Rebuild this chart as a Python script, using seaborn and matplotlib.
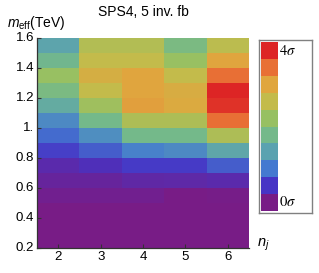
import numpy as np
import pandas as pd
import matplotlib
matplotlib.use("Agg")
import matplotlib.pyplot as plt
import seaborn as sns
from matplotlib.colors import LinearSegmentedColormap, ListedColormap

# n_j columns, m_eff bins (lower edge, top row first)
n_jets = [2, 3, 4, 5, 6]
m_eff_low = [1.5, 1.4, 1.3, 1.2, 1.1, 1.0, 0.9, 0.8, 0.7, 0.6, 0.5, 0.4, 0.3, 0.2]

# significance (sigma) for each n_j, top row first
sig_nj2 = [1.38, 1.73, 2.22, 1.87, 1.51, 1.07, 0.80, 0.53, 0.27, 0.16, 0.07, 0, 0, 0]
sig_nj3 = [2.49, 2.67, 2.93, 2.67, 2.31, 1.78, 1.11, 0.71, 0.36, 0.16, 0.07, 0, 0, 0]
sig_nj4 = [2.49, 2.67, 3.11, 3.11, 3.16, 2.44, 1.78, 0.98, 0.49, 0.22, 0.07, 0, 0, 0]
sig_nj5 = [1.87, 2.22, 2.67, 2.98, 3.02, 2.44, 1.78, 1.07, 0.49, 0.24, 0.0, 0, 0, 0]
sig_nj6 = [2.58, 3.11, 3.56, 4.00, 3.91, 3.56, 2.44, 1.42, 0.71, 0.27, 0.02, 0, 0, 0]

y_ticks = [1.6, 1.4, 1.2, 1.0, 0.8, 0.6, 0.4, 0.2]
y_tick_labels = ["1.6", "1.4", "1.2", "1.", "0.8", "0.6", "0.4", "0.2"]

# legend colours, bottom (0 sigma) to top (4 sigma)
level_colors = ["#781c86", "#4634c5", "#4479d0", "#5aa2b0", "#74b98a",
                "#97c062", "#c3bb4b", "#e0a63e", "#e87035", "#dd2525"]

grid = pd.DataFrame({2: sig_nj2, 3: sig_nj3, 4: sig_nj4, 5: sig_nj5, 6: sig_nj6},
                    index=m_eff_low)

plt.rcParams["font.family"] = ["Liberation Sans", "DejaVu Sans"]
plt.rcParams["mathtext.fontset"] = "custom"
plt.rcParams["mathtext.rm"] = "Liberation Sans"
plt.rcParams["mathtext.it"] = "Liberation Sans:italic"

cmap = LinearSegmentedColormap.from_list("sig", level_colors)

fig = plt.figure(figsize=(3.19, 2.73), dpi=100)
ax = fig.add_axes([0.116, 0.092, 0.665, 0.769])
sns.heatmap(grid, cmap=cmap, vmin=0, vmax=4, cbar=False, ax=ax)

ax.set_xticks([i + 0.5 for i in range(len(n_jets))])
ax.set_xticklabels([str(n) for n in n_jets], fontsize=9.5, rotation=0)
ax.set_yticks([(m_eff_low[0] + 0.1 - v) / 0.1 for v in y_ticks])
ax.set_yticklabels(y_tick_labels, fontsize=9.5, rotation=0)
ax.tick_params(direction="in", length=3, width=0.8, color="#333333", pad=2)
ax.set_xlabel("")
ax.set_ylabel("")
for side in ["left", "bottom"]:
    ax.spines[side].set_visible(True)
    ax.spines[side].set_color("#333333")
    ax.spines[side].set_linewidth(0.9)

ax.text(-0.14, 1.03, r"$m_{\mathrm{eff}}$(TeV)", transform=ax.transAxes,
        fontsize=10, ha="left", va="bottom")
ax.text(1.035, 0.015, r"$n_j$", transform=ax.transAxes, fontsize=10.5,
        ha="left", va="center")
ax.set_title("SPS4, 5 inv. fb", fontsize=10, pad=16)

# discrete legend strip
cax = fig.add_axes([0.812, 0.22, 0.166, 0.633])
legend_vals = pd.DataFrame({"s": list(range(len(level_colors)))[::-1]})
sns.heatmap(legend_vals, cmap=ListedColormap(level_colors), cbar=False,
            ax=cax, xticklabels=False, yticklabels=False)
cax.set_xlim(-0.125, 3.0)
cax.set_ylim(10.12, -0.12)
for side in cax.spines.values():
    side.set_visible(True)
    side.set_color("#808080")
    side.set_linewidth(1.0)
cax.set_xlabel("")
cax.set_ylabel("")
cax.text(1.05, 0.5, r"$4\sigma$", fontsize=10.5, ha="left", va="center",
         math_fontfamily="stix")
cax.text(1.05, 9.5, r"$0\sigma$", fontsize=10.5, ha="left", va="center",
         math_fontfamily="stix")

fig.savefig("out.png", dpi=100)
